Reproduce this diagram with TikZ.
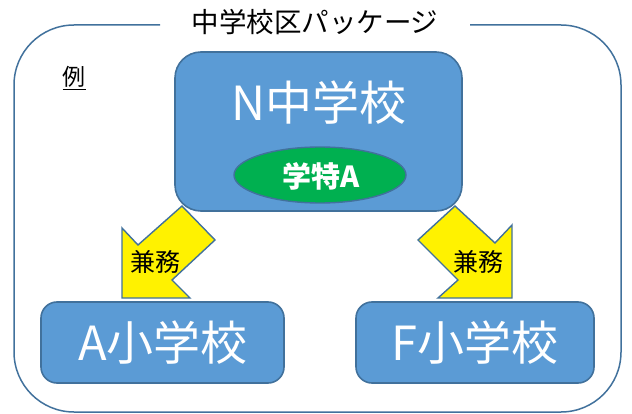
\documentclass[tikz,border=0pt]{standalone}
\usepackage{fontspec}
\setmainfont{Noto Sans CJK JP}
\newfontfamily\jp{Noto Sans CJK JP}
\usetikzlibrary{shapes.geometric}
\definecolor{boxfill}{HTML}{5B9BD5}
\definecolor{boxline}{HTML}{41719C}
\definecolor{okgreen}{HTML}{00B050}
\tikzset{
  school/.style={draw=boxline, line width=1.6pt, fill=boxfill, rounded corners=#1},
  schooltext/.style={text=white, font=\jp\fontsize{47}{49}\selectfont, inner sep=0pt},
  kenmu/.style={draw=boxline, line width=1.4pt, fill=yellow, line join=miter},
  kenmutext/.style={text=black, font=\jp\fontsize{25}{27}\selectfont, inner sep=0pt},
}
\begin{document}
\begin{tikzpicture}[x=1pt,y=-1pt]
\useasboundingbox (0,0) rectangle (632,414);
% outer package frame
\draw[boxline, line width=1.5pt, rounded corners=60pt]
  (160,25) -- (14,25) -- (14,412) -- (621,412) -- (621,25) -- (470,25);
\node[font=\jp\fontsize{27.5}{29}\selectfont, inner sep=0pt] (title) at (315,22) {中学校区パッケージ};
\node[font=\jp\fontsize{23}{25}\selectfont, inner sep=1pt] (rei) at (74,78) {\underline{例}};
% arrows (behind boxes)
\draw[kenmu] (182,206) -- (138,245) -- (122,228) -- (122,298) -- (190,298) -- (172,280) -- (215,240) -- cycle;
\draw[kenmu] (455,206) -- (495,243) -- (512,225) -- (512,298) -- (438,298) -- (458,280) -- (418,240) -- cycle;
\node[kenmutext] (k1) at (155,262) {兼務};
\node[kenmutext] (k2) at (478,262) {兼務};
% N junior high
\draw[school=26pt] (175,52) rectangle (462,211);
\node[schooltext] (n) at (319,103) {N中学校};
\node[ellipse, draw=boxline, line width=1.4pt, fill=okgreen, minimum width=172pt, minimum height=56pt, inner sep=0pt] (gt) at (320,175) {};
\node[text=white, font=\jp\bfseries\fontsize{29}{31}\selectfont, inner sep=0pt] (gtt) at (321,176) {学特A};
% elementary schools
\draw[school=16pt] (41,302) rectangle (284,383);
\node[schooltext] (a) at (163,343) {A小学校};
\draw[school=16pt] (356,302) rectangle (594,383);
\node[schooltext] (f) at (475,343) {F小学校};
\end{tikzpicture}
\end{document}
